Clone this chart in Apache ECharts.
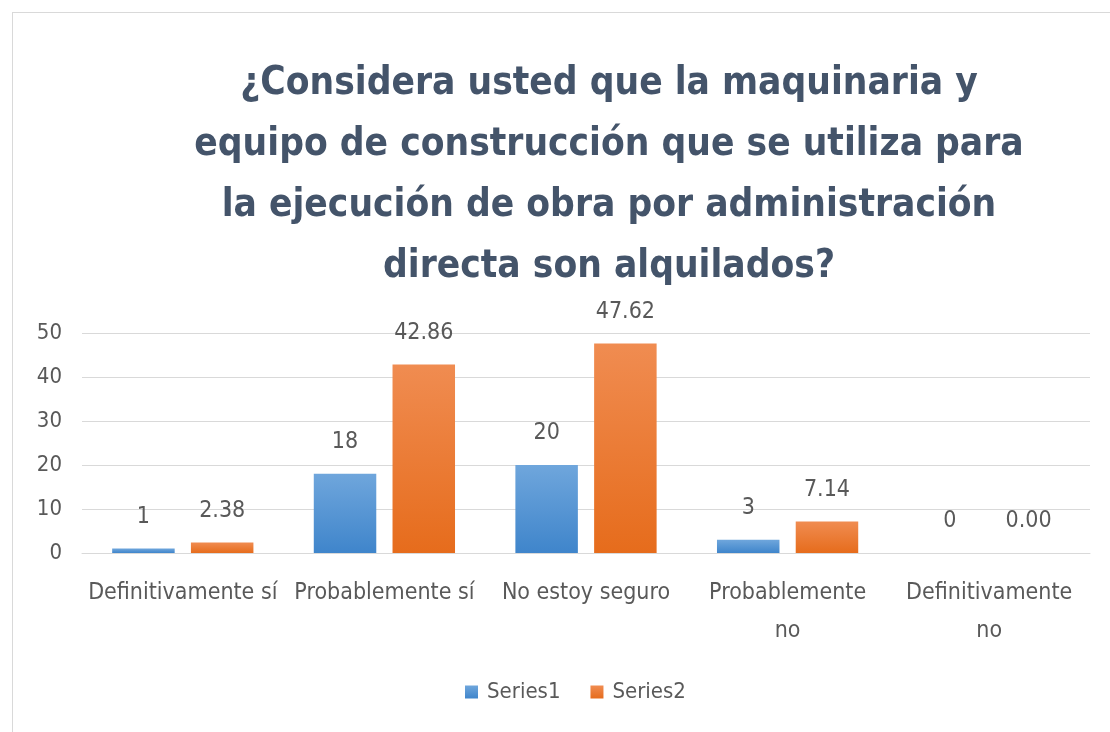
<!DOCTYPE html>
<html>
<head>
<meta charset="utf-8">
<script src="https://cdn.jsdelivr.net/npm/echarts@6/dist/echarts.min.js"></script>
<style>
  html, body { margin: 0; padding: 0; background: #fff; }
  #frame { position: absolute; left: 12px; top: 12px; width: 1110px; height: 740px; border: 1px solid #d9d9d9; box-sizing: border-box; }
  #main { position: absolute; left: 0; top: 0; width: 1110px; height: 732px; }
</style>
</head>
<body>
<div id="frame"></div>
<div id="main"></div>
<script>
// datos
var categorias = ['Definitivamente sí', 'Probablemente sí', 'No estoy seguro', 'Probablemente\nno', 'Definitivamente\nno'];
var serie1 = [1, 18, 20, 3, 0];
var serie2 = [2.38, 42.86, 47.62, 7.14, 0.00];
var titulo = '¿Considera usted que la maquinaria y\nequipo de construcción que se utiliza para\nla ejecución de obra por administración\ndirecta son alquilados?';

var fuente = '"Liberation Sans Narrow", "DejaVu Sans Condensed", sans-serif';
var gris = '#595959';

function degradado(arriba, abajo) {
    return new echarts.graphic.LinearGradient(0, 0, 0, 1, [
        { offset: 0, color: arriba },
        { offset: 1, color: abajo }
    ]);
}

var myChart = echarts.init(document.getElementById('main'));
var options = {
    animation: false,
    title: {
        text: titulo,
        left: 604,
        textAlign: 'center',
        top: 48,
        textStyle: {
            fontFamily: fuente,
            fontSize: 38.5,
            fontWeight: 'bold',
            color: '#44546a',
            lineHeight: 61
        }
    },
    legend: {
        data: ['Series1', 'Series2'],
        bottom: 24,
        left: 460,
        itemWidth: 13,
        itemHeight: 13,
        itemGap: 30,
        icon: 'rect',
        textStyle: { fontFamily: fuente, fontSize: 22, color: gris, padding: [0, 0, 0, 4] }
    },
    grid: {
        left: 82,
        right: 20,
        top: 333,
        bottom: 179
    },
    xAxis: {
        type: 'category',
        data: categorias,
        axisLine: { lineStyle: { color: '#d9d9d9' } },
        axisTick: { show: false },
        axisLabel: {
            interval: 0,
            margin: 21,
            fontFamily: fuente,
            fontSize: 23,
            color: gris,
            lineHeight: 38
        }
    },
    yAxis: {
        type: 'value',
        min: 0,
        max: 50,
        interval: 10,
        axisLine: { show: false },
        axisTick: { show: false },
        splitLine: { lineStyle: { color: '#d9d9d9' } },
        axisLabel: {
            margin: 20,
            fontFamily: fuente,
            fontSize: 22,
            color: gris
        }
    },
    series: [
        {
            name: 'Series1',
            type: 'bar',
            data: serie1,
            barWidth: '31%',
            barGap: '26%',
            itemStyle: { color: degradado('#6fa6dc', '#3f85cb') },
            label: {
                show: true,
                position: 'top',
                distance: 20,
                fontFamily: fuente,
                fontSize: 23,
                color: gris
            }
        },
        {
            name: 'Series2',
            type: 'bar',
            data: serie2,
            barWidth: '31%',
            itemStyle: { color: degradado('#f08c51', '#e66c1c') },
            label: {
                show: true,
                position: 'top',
                distance: 20,
                fontFamily: fuente,
                fontSize: 23,
                color: gris,
                formatter: function (p) { return p.value.toFixed(2); }
            }
        }
    ]
};
myChart.setOption(options, true);
</script>
</body>
</html>
